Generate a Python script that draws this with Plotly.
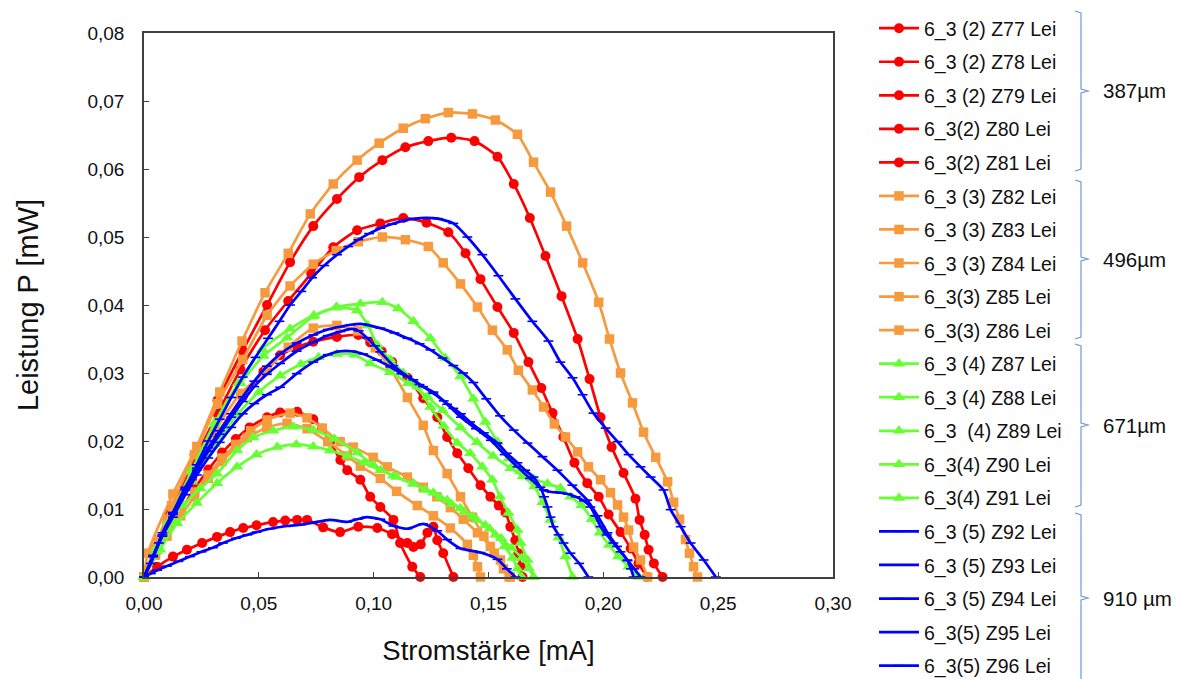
import plotly.graph_objects as go

# ---------------- data (Stromstärke [mA] -> Leistung P [mW]) ----------------
# 387 µm  (red, circles)
z77_x = [0, 0.0055, 0.011, 0.022, 0.032, 0.043, 0.0536, 0.0636, 0.0737, 0.084, 0.0937, 0.1038, 0.1138, 0.1238, 0.1338, 0.1439, 0.1539, 0.161, 0.168, 0.1748, 0.1818, 0.1888, 0.194, 0.1988, 0.2036, 0.2088, 0.214, 0.2158, 0.218, 0.2197, 0.222, 0.2258]
z77_y = [0, 0.0048, 0.0095, 0.018, 0.026, 0.0333, 0.040, 0.0463, 0.0516, 0.0556, 0.0588, 0.0613, 0.0632, 0.0641, 0.0646, 0.0641, 0.0618, 0.0578, 0.0528, 0.0472, 0.0413, 0.035, 0.0291, 0.0235, 0.0191, 0.0153, 0.0115, 0.0084, 0.0062, 0.004, 0.002, 0.0]
z78_x = [0, 0.0055, 0.011, 0.021, 0.032, 0.042, 0.0527, 0.0628, 0.0728, 0.0824, 0.0928, 0.1029, 0.1129, 0.123, 0.1325, 0.14, 0.1465, 0.1539, 0.161, 0.1674, 0.173, 0.1779, 0.1826, 0.1874, 0.193, 0.198, 0.2023, 0.2075, 0.2119, 0.2153, 0.219]
z78_y = [0, 0.0045, 0.009, 0.0165, 0.024, 0.0305, 0.0363, 0.0406, 0.0446, 0.0485, 0.051, 0.052, 0.0528, 0.0521, 0.0507, 0.0476, 0.0438, 0.0397, 0.0359, 0.0316, 0.0278, 0.0241, 0.0206, 0.0168, 0.0138, 0.0118, 0.0092, 0.0066, 0.0042, 0.002, 0.0]
z79_x = [0, 0.005, 0.01, 0.021, 0.032, 0.043, 0.052, 0.0593, 0.0665, 0.0737, 0.084, 0.0933, 0.0985, 0.1035, 0.1081, 0.1147, 0.1216, 0.1277, 0.132, 0.1364, 0.1412, 0.1465, 0.1508, 0.1545, 0.1574, 0.1595, 0.1617, 0.163, 0.164, 0.1648]
z79_y = [0, 0.004, 0.0075, 0.0145, 0.021, 0.0265, 0.0302, 0.0326, 0.0338, 0.0346, 0.0353, 0.0356, 0.0345, 0.0332, 0.0316, 0.0293, 0.0263, 0.0235, 0.0206, 0.0182, 0.016, 0.0135, 0.0118, 0.0105, 0.0095, 0.0074, 0.0054, 0.0035, 0.0015, 0.0]
z80_x = [0, 0.005, 0.01, 0.016, 0.022, 0.028, 0.034, 0.04, 0.046, 0.0536, 0.0593, 0.0667, 0.0737, 0.0775, 0.081, 0.0855, 0.0885, 0.0942, 0.0985, 0.1029, 0.1086, 0.1115, 0.1168, 0.1203]
z80_y = [0, 0.0035, 0.0068, 0.0098, 0.013, 0.0158, 0.0183, 0.0203, 0.022, 0.0235, 0.0242, 0.0243, 0.0232, 0.0218, 0.0199, 0.0172, 0.0157, 0.0143, 0.0118, 0.0103, 0.0084, 0.005, 0.0015, 0.0]
z81_x = [0, 0.0057, 0.0126, 0.0187, 0.0253, 0.0318, 0.0375, 0.0432, 0.049, 0.0562, 0.0615, 0.0667, 0.071, 0.078, 0.0854, 0.0933, 0.1016, 0.108, 0.1147, 0.1173, 0.1205, 0.1234, 0.126, 0.1277, 0.1303, 0.1347]
z81_y = [0, 0.0015, 0.003, 0.004, 0.005, 0.0059, 0.0066, 0.0072, 0.0076, 0.0081, 0.0083, 0.0084, 0.0084, 0.0073, 0.0066, 0.0074, 0.0072, 0.0063, 0.005, 0.0044, 0.0048, 0.0065, 0.0074, 0.0054, 0.0035, 0.0]

# 496 µm  (orange, squares)
z82_x = [0, 0.0017, 0.0126, 0.023, 0.033, 0.0427, 0.0527, 0.0628, 0.0724, 0.0824, 0.0928, 0.1024, 0.1129, 0.1225, 0.1325, 0.143, 0.153, 0.1626, 0.1696, 0.177, 0.184, 0.191, 0.198, 0.2027, 0.2075, 0.2127, 0.2175, 0.2228, 0.228, 0.2306, 0.2332, 0.2358, 0.2375, 0.2393, 0.241]
z82_y = [0, 0.0035, 0.0122, 0.0192, 0.0272, 0.0347, 0.0418, 0.0476, 0.0534, 0.0578, 0.0613, 0.0638, 0.066, 0.0674, 0.0683, 0.0681, 0.0672, 0.0651, 0.061, 0.0566, 0.0516, 0.0462, 0.0404, 0.035, 0.030, 0.0256, 0.0213, 0.0176, 0.014, 0.011, 0.0085, 0.0055, 0.0035, 0.0015, 0.0]
z83_x = [0, 0.006, 0.012, 0.022, 0.032, 0.043, 0.0536, 0.0636, 0.0737, 0.0837, 0.0933, 0.1038, 0.1138, 0.1238, 0.1303, 0.1378, 0.1452, 0.1517, 0.1582, 0.163, 0.1691, 0.174, 0.1787, 0.1835, 0.1888, 0.1935, 0.1988, 0.2031, 0.2062, 0.2088, 0.211, 0.2132, 0.2162, 0.2193]
z83_y = [0, 0.0055, 0.0105, 0.018, 0.0255, 0.032, 0.0385, 0.0428, 0.046, 0.048, 0.0493, 0.050, 0.0496, 0.0486, 0.0462, 0.0431, 0.0397, 0.0363, 0.0334, 0.0304, 0.0275, 0.025, 0.0225, 0.0206, 0.0184, 0.0162, 0.0143, 0.0124, 0.0106, 0.0088, 0.0069, 0.0044, 0.0025, 0.0]
z84_x = [0, 0.005, 0.01, 0.021, 0.031, 0.042, 0.0536, 0.0628, 0.0737, 0.084, 0.093, 0.1007, 0.1072, 0.1147, 0.1216, 0.126, 0.132, 0.1378, 0.143, 0.148, 0.1525, 0.1565, 0.159]
z84_y = [0, 0.0045, 0.0085, 0.0155, 0.0215, 0.027, 0.0304, 0.0338, 0.0366, 0.037, 0.0362, 0.0337, 0.0307, 0.0264, 0.0223, 0.0186, 0.0152, 0.0118, 0.0088, 0.006, 0.0035, 0.0012, 0.0]
z85_x = [0, 0.005, 0.01, 0.016, 0.022, 0.028, 0.034, 0.04, 0.0465, 0.0536, 0.0636, 0.071, 0.0776, 0.0854, 0.0911, 0.0998, 0.1059, 0.1147, 0.1216, 0.1275, 0.1334, 0.139, 0.1452, 0.1508, 0.1552, 0.1595]
z85_y = [0, 0.0035, 0.0068, 0.0098, 0.0125, 0.015, 0.0175, 0.0195, 0.0215, 0.0231, 0.0241, 0.0234, 0.0219, 0.0199, 0.0191, 0.0176, 0.0162, 0.0147, 0.0132, 0.0118, 0.0102, 0.0085, 0.0065, 0.0045, 0.0025, 0.0]
z86_x = [0, 0.005, 0.01, 0.016, 0.022, 0.028, 0.034, 0.04, 0.045, 0.0535, 0.0623, 0.071, 0.08, 0.0885, 0.0942, 0.1029, 0.110, 0.119, 0.126, 0.1334, 0.1408, 0.1434, 0.1452, 0.1465]
z86_y = [0, 0.0032, 0.006, 0.009, 0.0118, 0.0145, 0.017, 0.019, 0.0205, 0.022, 0.0226, 0.0218, 0.0199, 0.0178, 0.0163, 0.0145, 0.0126, 0.0105, 0.009, 0.0072, 0.0048, 0.0032, 0.0015, 0.0]

# 671 µm  (green, triangles)
z87_x = [0, 0.0055, 0.0105, 0.021, 0.031, 0.042, 0.052, 0.0623, 0.0737, 0.084, 0.0942, 0.1038, 0.1107, 0.1173, 0.1247, 0.1312, 0.1378, 0.1434, 0.1486, 0.1539, 0.1587, 0.1639, 0.1696, 0.1757, 0.1813, 0.1857, 0.1905, 0.195, 0.1985, 0.2025, 0.2065, 0.211, 0.2155]
z87_y = [0, 0.0042, 0.008, 0.0155, 0.0225, 0.0285, 0.0325, 0.0352, 0.0383, 0.0397, 0.0402, 0.0404, 0.0395, 0.0376, 0.0351, 0.0322, 0.0295, 0.0262, 0.0228, 0.0199, 0.0174, 0.0156, 0.0145, 0.0137, 0.0131, 0.0118, 0.0105, 0.0085, 0.0065, 0.0047, 0.003, 0.0015, 0.0]
z88_x = [0, 0.0055, 0.0105, 0.021, 0.031, 0.041, 0.0515, 0.0636, 0.074, 0.0835, 0.0928, 0.0975, 0.1016, 0.1072, 0.1129, 0.119, 0.1247, 0.1305, 0.1364, 0.142, 0.1473, 0.1517, 0.155, 0.1587, 0.1626, 0.164, 0.167, 0.1696]
z88_y = [0, 0.0043, 0.008, 0.0158, 0.0228, 0.0285, 0.0335, 0.0365, 0.0385, 0.0396, 0.0392, 0.037, 0.0341, 0.032, 0.030, 0.028, 0.025, 0.0222, 0.0197, 0.0182, 0.0162, 0.0143, 0.0118, 0.0094, 0.0069, 0.005, 0.0025, 0.0]
z89_x = [0, 0.0055, 0.0105, 0.021, 0.031, 0.041, 0.05, 0.0593, 0.0683, 0.076, 0.084, 0.0915, 0.0985, 0.1072, 0.115, 0.1234, 0.13, 0.1378, 0.145, 0.152, 0.1596, 0.165, 0.17, 0.1735, 0.177, 0.1805, 0.1835, 0.1866]
z89_y = [0, 0.0038, 0.0072, 0.014, 0.0195, 0.024, 0.0272, 0.0296, 0.0313, 0.0323, 0.0328, 0.0327, 0.0314, 0.0301, 0.0285, 0.0265, 0.0245, 0.022, 0.0198, 0.0178, 0.016, 0.0148, 0.0133, 0.011, 0.0084, 0.0058, 0.003, 0.0]
z90_x = [0, 0.006, 0.012, 0.017, 0.0245, 0.0318, 0.0405, 0.0475, 0.0562, 0.065, 0.0737, 0.083, 0.0928, 0.0998, 0.1086, 0.1173, 0.126, 0.132, 0.1378, 0.1432, 0.1486, 0.153, 0.157, 0.1605, 0.1626, 0.1645]
z90_y = [0, 0.0045, 0.0085, 0.0106, 0.013, 0.0152, 0.0186, 0.0205, 0.0215, 0.0221, 0.0216, 0.0203, 0.0183, 0.0165, 0.0149, 0.0137, 0.0124, 0.0113, 0.0101, 0.0089, 0.0076, 0.0062, 0.0045, 0.0028, 0.0012, 0.0]
z91_x = [0, 0.007, 0.0144, 0.023, 0.0318, 0.0405, 0.049, 0.058, 0.0663, 0.0737, 0.081, 0.0885, 0.0958, 0.103, 0.11, 0.1173, 0.1225, 0.129, 0.134, 0.1395, 0.145, 0.1505, 0.1555, 0.16, 0.1645, 0.1675, 0.1696]
z91_y = [0, 0.004, 0.0079, 0.0109, 0.0138, 0.0162, 0.018, 0.0191, 0.0195, 0.0192, 0.0186, 0.0178, 0.0168, 0.0157, 0.0147, 0.0137, 0.0128, 0.0117, 0.0107, 0.0096, 0.0084, 0.0071, 0.0057, 0.0043, 0.0028, 0.0013, 0.0]

# 910 µm  (blue, dashes)
z92_x = [0, 0.003, 0.0065, 0.0126, 0.018, 0.023, 0.028, 0.033, 0.038, 0.043, 0.0485, 0.054, 0.059, 0.0636, 0.0685, 0.0732, 0.0785, 0.0841, 0.089, 0.0933, 0.098, 0.1029, 0.108, 0.1129, 0.118, 0.1225, 0.128, 0.1347, 0.1408, 0.1473, 0.1543, 0.1617, 0.1691, 0.1761, 0.1813, 0.1866, 0.191, 0.1957, 0.201, 0.2062, 0.211, 0.2162, 0.2206, 0.2262, 0.2293, 0.2337, 0.238, 0.2437, 0.249]
z92_y = [0, 0.002, 0.005, 0.0094, 0.013, 0.0165, 0.020, 0.0232, 0.0264, 0.0294, 0.0323, 0.0351, 0.0376, 0.040, 0.042, 0.044, 0.0458, 0.0474, 0.0486, 0.0496, 0.0505, 0.0513, 0.0519, 0.0524, 0.0527, 0.0528, 0.0527, 0.052, 0.050, 0.0474, 0.0443, 0.0409, 0.0376, 0.0347, 0.0316, 0.0293, 0.0268, 0.0241, 0.0219, 0.0199, 0.018, 0.0162, 0.0147, 0.0128, 0.0099, 0.0074, 0.005, 0.0025, 0.0]
z93_x = [0, 0.004, 0.008, 0.0126, 0.018, 0.023, 0.028, 0.033, 0.038, 0.043, 0.048, 0.0535, 0.0593, 0.0665, 0.0737, 0.08, 0.0854, 0.09, 0.095, 0.1029, 0.109, 0.1147, 0.12, 0.1247, 0.13, 0.1347, 0.139, 0.1434, 0.149, 0.155, 0.161, 0.167, 0.1735, 0.18, 0.1865, 0.193, 0.1975, 0.2018, 0.206, 0.2105, 0.2135, 0.2162]
z93_y = [0, 0.003, 0.0065, 0.0095, 0.0132, 0.016, 0.019, 0.0215, 0.024, 0.0265, 0.0288, 0.031, 0.0328, 0.0344, 0.0356, 0.0364, 0.0368, 0.0371, 0.0372, 0.0366, 0.0359, 0.0351, 0.0343, 0.0334, 0.0322, 0.0311, 0.030, 0.0286, 0.0262, 0.0237, 0.0216, 0.0197, 0.0177, 0.0157, 0.0135, 0.0113, 0.009, 0.0065, 0.0045, 0.0025, 0.0012, 0.0]
z94_x = [0, 0.004, 0.008, 0.0126, 0.018, 0.023, 0.028, 0.033, 0.038, 0.043, 0.048, 0.0535, 0.0593, 0.0665, 0.0737, 0.08, 0.0855, 0.0905, 0.0935, 0.097, 0.1005, 0.1029, 0.1086, 0.1147, 0.12, 0.126, 0.132, 0.138, 0.1445, 0.151, 0.157, 0.1626, 0.168, 0.174, 0.1775, 0.1813, 0.1845, 0.188, 0.1915, 0.1944, 0.1965, 0.1988, 0.2015, 0.2044, 0.2075, 0.2105, 0.212, 0.2132]
z94_y = [0, 0.0032, 0.0062, 0.0092, 0.0128, 0.0157, 0.0185, 0.021, 0.0235, 0.0258, 0.028, 0.0298, 0.0314, 0.0332, 0.0345, 0.0355, 0.0361, 0.0365, 0.0362, 0.0352, 0.034, 0.0331, 0.0311, 0.0295, 0.0283, 0.0272, 0.0254, 0.0235, 0.0218, 0.0201, 0.018, 0.0162, 0.0145, 0.0128, 0.0125, 0.0124, 0.0122, 0.0118, 0.0112, 0.0103, 0.009, 0.0074, 0.0062, 0.005, 0.0037, 0.0024, 0.0012, 0.0]
z95_x = [0, 0.004, 0.008, 0.0126, 0.018, 0.023, 0.028, 0.033, 0.038, 0.043, 0.048, 0.0535, 0.0593, 0.0665, 0.0737, 0.08, 0.0854, 0.0905, 0.0955, 0.1015, 0.1072, 0.112, 0.1173, 0.1215, 0.126, 0.1305, 0.1347, 0.138, 0.142, 0.148, 0.1539, 0.158, 0.1626, 0.166, 0.1696, 0.1726, 0.1742, 0.1757, 0.177, 0.1783, 0.1805, 0.1827, 0.1857, 0.1895, 0.1935]
z95_y = [0, 0.003, 0.006, 0.0088, 0.0121, 0.015, 0.0175, 0.0198, 0.022, 0.024, 0.0255, 0.0268, 0.0279, 0.0299, 0.0316, 0.0327, 0.0332, 0.0332, 0.0328, 0.0319, 0.0309, 0.0299, 0.029, 0.028, 0.027, 0.0259, 0.0248, 0.024, 0.0228, 0.0212, 0.0197, 0.0182, 0.0168, 0.0157, 0.0147, 0.0132, 0.0118, 0.0103, 0.0088, 0.0074, 0.0062, 0.005, 0.0035, 0.002, 0.0]
z96_x = [0, 0.003, 0.0057, 0.01, 0.015, 0.02, 0.025, 0.03, 0.0344, 0.04, 0.045, 0.049, 0.055, 0.0623, 0.0685, 0.0737, 0.081, 0.0885, 0.093, 0.097, 0.1029, 0.1086, 0.1147, 0.1216, 0.1277, 0.132, 0.1378, 0.1465, 0.1539, 0.158, 0.1617]
z96_y = [0, 0.0005, 0.001, 0.0016, 0.0023, 0.003, 0.0037, 0.0043, 0.005, 0.0057, 0.0062, 0.0066, 0.0071, 0.0075, 0.0077, 0.008, 0.0084, 0.0081, 0.0085, 0.0088, 0.0085, 0.0075, 0.0071, 0.0078, 0.0068, 0.0055, 0.0042, 0.0036, 0.0026, 0.0012, 0.0]

x_ticks = [0, 0.05, 0.10, 0.15, 0.20, 0.25, 0.30]
y_ticks = [0, 0.01, 0.02, 0.03, 0.04, 0.05, 0.06, 0.07, 0.08]

group_labels = ["387µm", "496µm", "671µm", "910 µm"]

series = [
    ("6_3 (2) Z77 Lei", z77_x, z77_y), ("6_3 (2) Z78 Lei", z78_x, z78_y),
    ("6_3 (2) Z79 Lei", z79_x, z79_y), ("6_3(2) Z80 Lei", z80_x, z80_y),
    ("6_3(2) Z81 Lei", z81_x, z81_y),
    ("6_3 (3) Z82 Lei", z82_x, z82_y), ("6_3 (3) Z83 Lei", z83_x, z83_y),
    ("6_3 (3) Z84 Lei", z84_x, z84_y), ("6_3(3) Z85 Lei", z85_x, z85_y),
    ("6_3(3) Z86 Lei", z86_x, z86_y),
    ("6_3 (4) Z87 Lei", z87_x, z87_y), ("6_3 (4) Z88 Lei", z88_x, z88_y),
    ("6_3 \u00a0(4) Z89 Lei", z89_x, z89_y), ("6_3(4) Z90 Lei", z90_x, z90_y),
    ("6_3(4) Z91 Lei", z91_x, z91_y),
    ("6_3 (5) Z92 Lei", z92_x, z92_y), ("6_3 (5) Z93 Lei", z93_x, z93_y),
    ("6_3 (5) Z94 Lei", z94_x, z94_y), ("6_3(5) Z95 Lei", z95_x, z95_y),
    ("6_3(5) Z96 Lei", z96_x, z96_y),
]

styles = [
    dict(color="#FF0000", symbol="circle", size=10),
    dict(color="#F79A3E", symbol="square", size=9.5),
    dict(color="#66FF33", symbol="triangle-up", size=11),
    dict(color="#0000FF", symbol="line-ew", size=7),
]

FONT = "Liberation Sans, Arial, sans-serif"

fig = go.Figure()
for i, (name, xs, ys) in enumerate(series):
    st = styles[i // 5]
    marker = dict(symbol=st["symbol"], size=st["size"], color=st["color"])
    if st["symbol"] == "line-ew":
        marker["line"] = dict(color=st["color"], width=1.6)
    else:
        marker["line"] = dict(width=0)
    fig.add_trace(go.Scatter(
        x=xs, y=ys, name=name, mode="lines+markers",
        line=dict(color=st["color"], width=2.7, shape="spline", smoothing=0.6),
        marker=marker, legendgroup=name, cliponaxis=False,
    ))

# plot area in pixels
L, R, T, B = 144, 833, 33, 577
W, H = 1178, 679

def px_x(px):
    return (px - L) / (R - L)

def px_y(py):
    return (B - py) / (B - T)

brackets = [(11, 171, 91), (180, 339, 259), (344, 507, 425), (513, 690, 598)]
shapes = []
annotations = []
bx = 1081
for (top, bot, mid), lab in zip(brackets, group_labels):
    path = (f"M{px_x(bx-6)},{px_y(top)} L{px_x(bx)},{px_y(top+2)} L{px_x(bx)},{px_y(mid-2)} "
            f"L{px_x(bx+7)},{px_y(mid)} L{px_x(bx)},{px_y(mid+2)} L{px_x(bx)},{px_y(bot-2)} "
            f"L{px_x(bx-6)},{px_y(bot)}")
    shapes.append(dict(type="path", xref="paper", yref="paper", path=path,
                       line=dict(color="#6F98D6", width=1.2)))
    annotations.append(dict(xref="paper", yref="paper", x=px_x(1101), y=px_y(mid),
                            xanchor="left", yanchor="middle", text=lab, showarrow=False,
                            font=dict(family=FONT, size=20.5, color="#111111")))

fig.update_layout(
    width=W, height=H,
    margin=dict(l=L, r=W - R, t=T, b=H - B, autoexpand=False),
    paper_bgcolor="white", plot_bgcolor="white",
    separators=",.",
    font=dict(family=FONT, color="#111111"),
    showlegend=True,
    legend=dict(
        xref="container", yref="container", x=874 / W, y=1 - 9 / H,
        xanchor="left", yanchor="top", font=dict(family=FONT, size=19.5, color="#111111"),
        tracegroupgap=5.2, itemwidth=40, bgcolor="rgba(0,0,0,0)", borderwidth=0,
        maxheight=H,
    ),
    shapes=shapes, annotations=annotations,
)
fig.update_xaxes(
    range=[0, 0.30], tickvals=x_ticks, tickformat=".2f", ticks="inside", ticklen=5,
    tickcolor="#404040", showline=True, linecolor="#404040", linewidth=1.5, mirror=True,
    showgrid=False, zeroline=False, tickfont=dict(family=FONT, size=19, color="#111111"),
    title=dict(text="Stromstärke [mA]", font=dict(family=FONT, size=27.5, color="#111111"), standoff=28),
    ticklabelstandoff=8,
)
fig.update_yaxes(
    range=[0, 0.08], tickvals=y_ticks, tickformat=".2f", ticks="inside", ticklen=5,
    tickcolor="#404040", showline=True, linecolor="#404040", linewidth=1.5, mirror=True,
    showgrid=False, zeroline=False, tickfont=dict(family=FONT, size=19, color="#111111"),
    title=dict(text="Leistung P [mW]", font=dict(family=FONT, size=29, color="#111111"), standoff=40),
    ticklabelstandoff=14,
)

fig.write_html(
    "out.html",
    config={"displayModeBar": False},
    post_script="document.body.style.margin='0px';document.body.style.overflow='hidden';",
)
